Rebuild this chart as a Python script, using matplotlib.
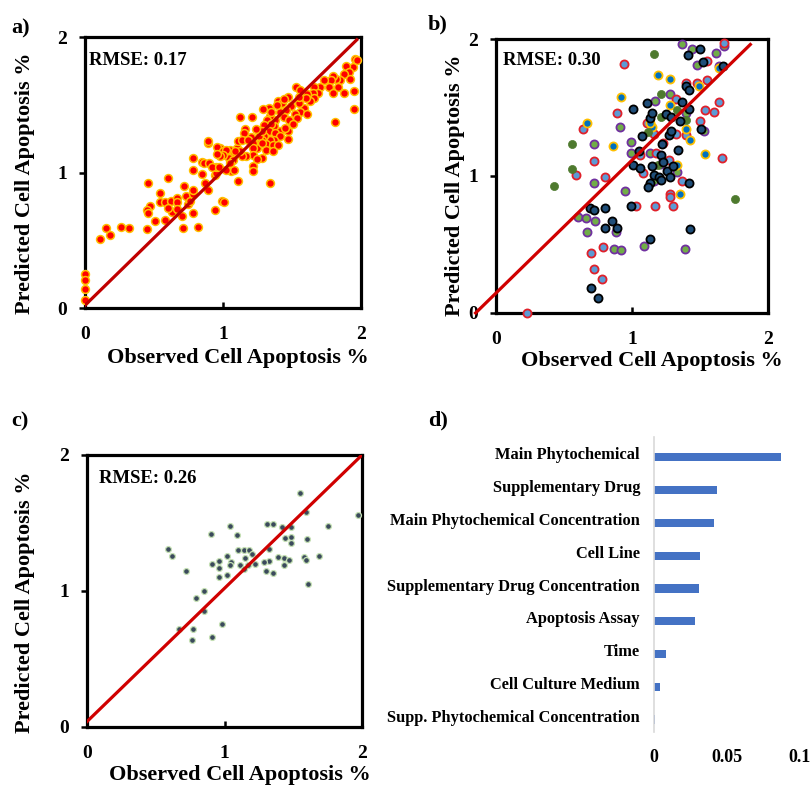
#!/usr/bin/env python3
"""
Observed vs predicted cell apoptosis (a-c) and feature importance (d).
"""
import matplotlib
matplotlib.use("Agg")
import matplotlib.pyplot as plt

# --- Data ---

# panel a: observed / predicted pairs
a_points = [
    (0.00, 0.25), (0.00, 0.21), (0.00, 0.14), (0.00, 0.06), (0.11, 0.51), (0.15, 0.59),
    (0.18, 0.54), (0.26, 0.60), (0.32, 0.59), (0.45, 0.58), (0.46, 0.92), (0.47, 0.75),
    (0.45, 0.72), (0.46, 0.70), (0.51, 0.64), (0.54, 0.85), (0.54, 0.78), (0.58, 0.78),
    (0.60, 0.96), (0.58, 0.65), (0.62, 0.79), (0.63, 0.71), (0.60, 0.74), (0.67, 0.81),
    (0.67, 0.78), (0.67, 0.73), (0.72, 0.90), (0.73, 0.83), (0.70, 0.68), (0.71, 0.59),
    (0.75, 0.77), (0.76, 0.79), (0.78, 0.84), (0.78, 0.87), (0.78, 0.70), (0.82, 0.60),
    (0.78, 1.11), (0.78, 1.02), (0.85, 1.08), (0.86, 1.07), (0.90, 1.07), (0.85, 0.99),
    (0.89, 1.22), (0.87, 0.92), (0.89, 0.87), (0.94, 0.72), (0.99, 0.79), (1.01, 0.78),
    (0.94, 0.98), (0.95, 1.00), (0.95, 1.04), (0.98, 1.18), (0.96, 1.19), (1.00, 1.16),
    (1.03, 1.15), (1.05, 1.17), (1.08, 1.14), (1.04, 1.11), (1.07, 1.09), (1.10, 1.18),
    (1.06, 1.01), (1.11, 0.94), (0.92, 1.04), (0.97, 1.04),
    (1.96, 1.84), (1.97, 1.83), (1.94, 1.78), (1.89, 1.79), (1.91, 1.74), (1.88, 1.73),
    (1.92, 1.69), (1.85, 1.68), (1.82, 1.69), (1.80, 1.71), (1.78, 1.68), (1.77, 1.63),
    (1.83, 1.63), (1.80, 1.59), (1.88, 1.59), (1.95, 1.60), (1.95, 1.47), (1.81, 1.37),
    (1.73, 1.68), (1.70, 1.63), (1.66, 1.63), (1.69, 1.59), (1.65, 1.59), (1.66, 1.55),
    (1.61, 1.58), (1.63, 1.53), (1.60, 1.55), (1.53, 1.63), (1.56, 1.61), (1.59, 1.48),
    (1.55, 1.51), (1.56, 1.45), (1.52, 1.43), (1.54, 1.40), (1.47, 1.56), (1.40, 1.53),
    (1.43, 1.51), (1.49, 1.49), (1.46, 1.46), (1.41, 1.45), (1.44, 1.41), (1.48, 1.39),
    (1.47, 1.31), (1.41, 1.31), (1.38, 1.39), (1.37, 1.34), (1.33, 1.48), (1.29, 1.47),
    (1.34, 1.42), (1.32, 1.39), (1.35, 1.36), (1.30, 1.35), (1.33, 1.31), (1.38, 1.29),
    (1.41, 1.27), (1.47, 1.25), (1.37, 1.24), (1.34, 1.24), (1.30, 1.27), (1.28, 1.24),
    (1.26, 1.27), (1.26, 1.21), (1.31, 1.21), (1.36, 1.20), (1.40, 1.20), (1.31, 1.17),
    (1.36, 1.16), (1.25, 1.18), (1.22, 1.22), (1.20, 1.26), (1.16, 1.32), (1.15, 1.29),
    (1.21, 1.41), (1.12, 1.41), (1.28, 1.31), (1.24, 1.32), (1.11, 1.23), (1.14, 1.24),
    (1.18, 1.24), (1.22, 1.18), (1.22, 1.13), (1.17, 1.12), (1.28, 1.11), (1.25, 1.10),
    (1.22, 1.05), (1.22, 1.01), (1.34, 0.92), (1.14, 1.12), (1.12, 1.16), (1.09, 1.16),
    (1.02, 1.17), (1.00, 1.13), (0.98, 1.12), (0.96, 1.14), (0.89, 1.23), (1.08, 1.02),
    (1.02, 1.02), (1.05, 1.07), (1.28, 1.22), (1.39, 1.50), (1.35, 1.45), (1.44, 1.54),
    (1.55, 1.56), (1.61, 1.43), (1.51, 1.36), (1.45, 1.33),
]
a_line_x = [0.0, 1.97]
a_line_y = [0.02, 1.98]

# panel b: five groups
b_green = [
    (1.16, 1.89), (1.21, 1.60), (1.21, 1.43), (1.33, 1.48), (1.40, 1.41), (1.12, 1.32),
    (0.56, 1.23), (0.56, 1.05), (0.43, 0.93), (1.76, 0.83), (1.19, 1.08),
]
b_navy = [
    (1.50, 1.93), (1.41, 1.88), (1.52, 1.83), (1.67, 1.80), (1.40, 1.66), (1.42, 1.63),
    (1.37, 1.54), (1.42, 1.49), (1.35, 1.40), (1.51, 1.34), (1.01, 1.49), (1.11, 1.53),
    (1.13, 1.42), (1.15, 1.46), (1.25, 1.45), (1.29, 1.43), (1.27, 1.30), (1.29, 1.33),
    (1.22, 1.23), (1.34, 1.19), (1.07, 1.29), (1.05, 1.18), (1.01, 1.08), (1.06, 1.06),
    (1.15, 1.07), (1.21, 1.15), (1.23, 1.10), (1.26, 1.04), (1.30, 1.07), (1.28, 0.99),
    (1.16, 1.01), (1.20, 0.99), (1.21, 0.97), (1.13, 0.95), (1.12, 0.92), (1.42, 0.95),
    (0.99, 0.78), (0.69, 0.77), (0.72, 0.75), (0.80, 0.77), (0.85, 0.67), (0.80, 0.62),
    (0.89, 0.62), (1.13, 0.54), (1.43, 0.61), (0.70, 0.18), (0.75, 0.11),
]
b_red = [
    (0.94, 1.82), (1.68, 1.97), (1.55, 1.84), (1.40, 1.68), (1.48, 1.68), (1.55, 1.70),
    (1.64, 1.54), (1.54, 1.48), (1.60, 1.47), (1.50, 1.40), (1.32, 1.56), (1.40, 1.30),
    (1.32, 1.31), (0.64, 1.34), (0.89, 1.46), (0.72, 1.11), (0.59, 1.01), (0.80, 0.99),
    (1.11, 1.39), (1.16, 1.31), (1.23, 1.24), (1.06, 1.15), (1.18, 1.17), (1.27, 1.12),
    (1.08, 1.02), (1.28, 0.87), (1.28, 0.85), (1.17, 0.78), (1.03, 0.78), (1.30, 0.78),
    (1.37, 0.96), (1.66, 1.13), (0.70, 0.44), (0.72, 0.32), (0.78, 0.25), (0.79, 0.48),
    (0.23, 0.00),
]
b_purple = [
    (1.37, 1.96), (1.44, 1.93), (1.48, 1.81), (1.62, 1.90), (1.68, 1.95), (1.64, 1.80),
    (1.28, 1.60), (1.17, 1.55), (1.40, 1.46), (1.53, 1.33), (0.91, 1.36), (0.72, 1.23),
    (0.99, 1.25), (0.99, 1.17), (1.13, 1.17), (1.21, 1.09), (1.33, 1.03), (0.72, 0.95),
    (0.95, 0.89), (0.60, 0.70), (0.66, 0.69), (0.73, 0.67), (0.67, 0.59), (0.88, 0.59),
    (0.87, 0.47), (0.92, 0.46), (1.09, 0.49), (1.39, 0.47), (1.16, 0.96),
]
b_yellow = [
    (1.19, 1.74), (1.28, 1.71), (0.92, 1.58), (0.67, 1.39), (0.86, 1.22), (1.28, 1.52),
    (1.49, 1.66), (1.64, 1.79), (1.40, 1.34), (1.43, 1.26), (1.54, 1.16), (1.33, 1.08),
    (1.35, 0.87), (1.15, 1.36), (1.13, 1.39),
]
b_line_x = [-0.15, 1.87]
b_line_y = [0.0, 1.96]

# panel c
c_points = [
    (1.55, 1.72), (1.59, 1.58), (1.97, 1.56), (1.75, 1.48), (1.31, 1.49), (1.35, 1.49),
    (1.04, 1.48), (1.42, 1.47), (1.48, 1.47), (0.90, 1.42), (1.09, 1.41), (1.44, 1.39),
    (1.48, 1.40), (1.60, 1.38), (1.48, 1.35), (0.59, 1.31), (0.62, 1.26), (1.10, 1.30),
    (1.14, 1.30), (1.18, 1.30), (1.32, 1.31), (1.20, 1.27), (1.02, 1.26), (0.96, 1.22),
    (1.15, 1.24), (0.91, 1.20), (1.05, 1.21), (1.04, 1.19), (1.11, 1.19), (1.17, 1.19),
    (1.22, 1.20), (0.96, 1.17), (1.32, 1.22), (1.29, 1.21), (1.39, 1.25), (1.43, 1.24),
    (1.47, 1.23), (1.43, 1.19), (1.58, 1.25), (1.59, 1.23), (1.69, 1.26), (1.61, 1.05),
    (0.72, 1.15), (1.30, 1.15), (1.35, 1.13), (0.96, 1.10), (1.02, 1.12), (1.14, 1.16),
    (0.85, 1.00), (0.79, 0.95), (0.85, 0.85), (0.67, 0.72), (0.77, 0.72), (0.98, 0.76),
    (0.91, 0.66), (0.76, 0.64),
]
c_line_x = [0.0, 2.0]
c_line_y = [0.04, 2.0]

# panel d: feature importance
features = [
    "Main Phytochemical", "Supplementary Drug", "Main Phytochemical Concentration",
    "Cell Line", "Supplementary Drug Concentration", "Apoptosis Assay", "Time",
    "Cell Culture Medium", "Supp. Phytochemical Concentration",
]
importance = [0.087, 0.0432, 0.041, 0.0315, 0.0306, 0.0283, 0.008, 0.0043, 0.001]
d_ticks = [0, 0.05, 0.1]
d_tick_labels = ["0", "0.05", "0.1"]

scatter_ticks = [0, 1, 2]
scatter_tick_labels = ["0", "1", "2"]

# --- Plotting ---

plt.rcParams["font.family"] = ["Liberation Serif", "DejaVu Serif"]
plt.rcParams["font.weight"] = "bold"

fig = plt.figure(figsize=(8.11, 7.85), dpi=100)


def style_scatter(ax, xlab_pos, ylab_pos):
    ax.set_xlim(0, 2)
    ax.set_ylim(0, 2)
    ax.set_xticks(scatter_ticks)
    ax.set_yticks(scatter_ticks)
    ax.set_xticklabels(scatter_tick_labels)
    ax.set_yticklabels(scatter_tick_labels)
    for s in ax.spines.values():
        s.set_linewidth(2.3)
        s.set_color("black")
    ax.tick_params(axis="x", direction="in", length=4, width=1.8, pad=13, labelsize=14)
    ax.tick_params(axis="y", direction="out", length=4, width=1.8, pad=9, labelsize=14)
    ax.set_xlabel("Observed Cell Apoptosis %", fontsize=16, fontweight="bold")
    ax.set_ylabel("Predicted Cell Apoptosis %", fontsize=16, fontweight="bold")
    ax.xaxis.set_label_coords(*xlab_pos)
    ax.yaxis.set_label_coords(*ylab_pos)


def xy(points):
    return [p[0] for p in points], [p[1] for p in points]


# a)
ax_a = fig.add_axes([0.1048, 0.6076, 0.3403, 0.3452])
x, y = xy(a_points)
ax_a.scatter(x, y, s=32, c="#FF0000", edgecolors="#FFC000", linewidths=1.1,
             zorder=3, clip_on=False)
ax_a.plot(a_line_x, a_line_y, color="#C00000", lw=2.3, zorder=4)
ax_a.text(0.015, 0.915, "RMSE: 0.17", transform=ax_a.transAxes, fontsize=13.5,
          fontweight="bold", va="center")
style_scatter(ax_a, (0.554, -0.148), (-0.181, 0.46))

# b)
ax_b = fig.add_axes([0.6116, 0.6013, 0.3354, 0.3490])
b_styles = [
    (b_purple, "#70AD47", "#7030A0", 1.3),
    (b_red, "#5B9BD5", "#E0202A", 1.3),
    (b_yellow, "#0070C0", "#FFC000", 1.3),
    (b_green, "#4E7A2E", "#4E7A2E", 0.5),
    (b_navy, "#1F4E79", "#000000", 1.3),
]
for pts, fc, ec, lw in b_styles:
    x, y = xy(pts)
    ax_b.scatter(x, y, s=34, c=fc, edgecolors=ec, linewidths=lw, zorder=3, clip_on=False)
ax_b.plot(b_line_x, b_line_y, color="#D00000", lw=2.3, zorder=4, clip_on=False)
ax_b.text(0.026, 0.923, "RMSE: 0.30", transform=ax_b.transAxes, fontsize=13.5,
          fontweight="bold", va="center")
style_scatter(ax_b, (0.572, -0.14), (-0.114, 0.467))

# c)
ax_c = fig.add_axes([0.1073, 0.0739, 0.3391, 0.3465])
x, y = xy(c_points)
ax_c.scatter(x, y, s=18, c="#3B4A5C", edgecolors="#C5E0B4", linewidths=0.9,
             zorder=3, clip_on=False)
ax_c.plot(c_line_x, c_line_y, color="#D00000", lw=2.3, zorder=4)
ax_c.text(0.044, 0.912, "RMSE: 0.26", transform=ax_c.transAxes, fontsize=13.5,
          fontweight="bold", va="center")
style_scatter(ax_c, (0.555, -0.138), (-0.189, 0.458))

# d)
ax_d = fig.add_axes([0.8064, 0.0675, 0.18, 0.3758])
pos = list(range(len(features)))
ax_d.barh([p + 0.12 for p in pos], importance, height=0.25, color="#4472C4", zorder=2)
ax_d.set_ylim(len(features) - 0.5, -0.5)
ax_d.set_xlim(0, 0.1)
ax_d.set_yticks(pos)
ax_d.set_yticklabels(features, fontsize=11.8, fontweight="bold")
ax_d.set_xticks(d_ticks)
ax_d.set_xticklabels(d_tick_labels, fontsize=13, fontweight="bold")
ax_d.tick_params(axis="y", length=0, pad=10)
ax_d.tick_params(axis="x", length=0, pad=12)
for side in ["top", "right", "bottom"]:
    ax_d.spines[side].set_visible(False)
ax_d.spines["left"].set_color("#D9D9D9")
ax_d.spines["left"].set_linewidth(1.2)

# panel letters
for lab, px, py in [("a)", 21, 28), ("b)", 438, 24), ("c)", 20, 421), ("d)", 438, 420)]:
    fig.text(px / 811, 1 - py / 785, lab, fontsize=16, fontweight="bold",
             ha="center", va="center")

fig.savefig("out.png", dpi=100)
